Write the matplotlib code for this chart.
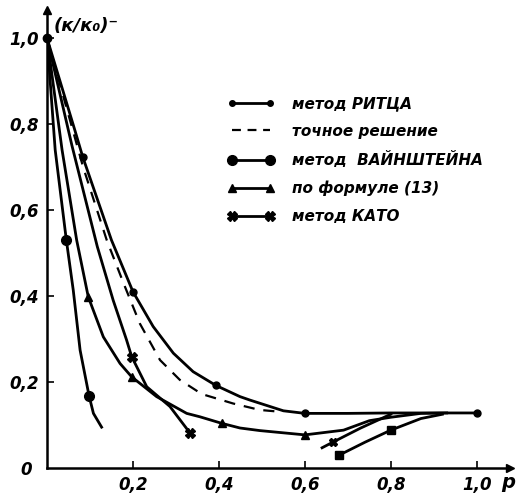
import numpy as np
import matplotlib.pyplot as plt

# метод Ритца
ritz_x = [0, 0.065, 0.083, 0.15, 0.2, 0.247, 0.294, 0.34, 0.393, 0.449, 0.472, 0.55, 0.6, 0.7, 0.8, 0.9, 1.0]
ritz_y = [1.0, 0.785, 0.724, 0.53, 0.41, 0.329, 0.267, 0.224, 0.192, 0.166, 0.158, 0.133, 0.127, 0.127, 0.128, 0.128, 0.128]
ritz_mx = [0, 0.083, 0.2, 0.393, 0.6, 1.0]
ritz_my = [1.0, 0.724, 0.41, 0.192, 0.127, 0.128]

# точное решение
exact_x = [0, 0.084, 0.139, 0.178, 0.216, 0.263, 0.309, 0.36, 0.433, 0.495, 0.54]
exact_y = [1.0, 0.70, 0.53, 0.43, 0.336, 0.251, 0.205, 0.172, 0.150, 0.135, 0.131]

# метод Вайнштейна
vain_x = [0, 0.019, 0.045, 0.061, 0.077, 0.098, 0.108, 0.127]
vain_y = [1.0, 0.74, 0.53, 0.414, 0.274, 0.167, 0.127, 0.095]
vain_mx = [0.045, 0.098]
vain_my = [0.53, 0.167]
vain2_x = [0.68, 0.74, 0.8, 0.87, 0.92]
vain2_y = [0.03, 0.06, 0.088, 0.115, 0.125]
vain2_mx = [0.68, 0.8]
vain2_my = [0.03, 0.088]

# по формуле (13)
f13_x = [0, 0.035, 0.069, 0.096, 0.131, 0.17, 0.197, 0.255, 0.325, 0.356, 0.406, 0.449, 0.495, 0.6,
         0.69, 0.75, 0.8, 0.87, 0.93]
f13_y = [1.0, 0.74, 0.53, 0.398, 0.305, 0.243, 0.212, 0.166, 0.127, 0.119, 0.104, 0.093, 0.087, 0.077,
         0.088, 0.11, 0.118, 0.127, 0.128]
f13_mx = [0.096, 0.197, 0.406, 0.6]
f13_my = [0.398, 0.212, 0.104, 0.077]

# метод Като
kato_x = [0, 0.058, 0.117, 0.154, 0.185, 0.197, 0.232, 0.286, 0.333]
kato_y = [1.0, 0.75, 0.515, 0.39, 0.298, 0.259, 0.189, 0.143, 0.081]
kato_mx = [0.197, 0.333]
kato_my = [0.259, 0.081]
kato2_x = [0.64, 0.665, 0.73, 0.8]
kato2_y = [0.047, 0.06, 0.093, 0.125]

yticks = [0.2, 0.4, 0.6, 0.8, 1.0]
ylabels = ['0,2', '0,4', '0,6', '0,8', '1,0']
xticks = [0.2, 0.4, 0.6, 0.8, 1.0]
xlabels = ['0,2', '0,4', '0,6', '0,8', '1,0']

fnt = dict(fontstyle='italic', fontweight='bold')

fig = plt.figure(figsize=(5.23, 4.96), dpi=100)
ax = fig.add_axes([0.0899, 0.0565, 0.885, 0.923])
lw = 2

ax.plot(ritz_x, ritz_y, 'k-', lw=lw)
ax.plot(ritz_mx, ritz_my, 'ko', ms=5)
ax.plot(exact_x, exact_y, 'k--', lw=1.6, dashes=(5, 4))
ax.plot(vain_x, vain_y, 'k-', lw=lw)
ax.plot(vain_mx, vain_my, 'ko', ms=7)
ax.plot(vain2_x, vain2_y, 'k-', lw=lw)
ax.plot(vain2_mx, vain2_my, 'ks', ms=6)
ax.plot(f13_x, f13_y, 'k-', lw=lw)
ax.plot(f13_mx, f13_my, 'k^', ms=6)
ax.plot(kato_x, kato_y, 'k-', lw=lw)
ax.plot(kato_mx, kato_my, 'kX', ms=7)
ax.plot(kato2_x, kato2_y, 'k-', lw=lw)
ax.plot(kato2_x[1], kato2_y[1], 'kX', ms=6)
ax.plot(0, 1.0, 'ko', ms=6, clip_on=False)

# legend
h1, = ax.plot([], [], 'k-', lw=lw, marker='o', ms=4)
h2, = ax.plot([], [], 'k--', lw=1.6, dashes=(4, 3))
h3, = ax.plot([], [], 'k-', lw=lw, marker='o', ms=7)
h4, = ax.plot([], [], 'k-', lw=lw, marker='^', ms=6)
h5, = ax.plot([], [], 'k-', lw=lw, marker='X', ms=7)
ax.legend([h1, h2, h3, h4, h5],
          ['метод РИТЦА', 'точное решение', 'метод  ВАЙНШТЕЙНА',
           'по формуле (13)', 'метод КАТО'],
          loc='upper left', bbox_to_anchor=(0.36, 0.842), frameon=False,
          numpoints=2, handlelength=3.1, labelspacing=0.82, handletextpad=1.1,
          prop=dict(style='italic', weight='bold', size=11))

ax.set_xlim(0, 1.077)
ax.set_ylim(0, 1.065)
for s in ['top', 'right']:
    ax.spines[s].set_visible(False)
ax.spines['left'].set_linewidth(1.8)
ax.spines['bottom'].set_linewidth(1.8)
ax.plot(1, 0, '>k', ms=6, transform=ax.transAxes, clip_on=False)
ax.plot(0, 1, '^k', ms=6, transform=ax.transAxes, clip_on=False)

ax.set_xticks(xticks)
ax.set_xticklabels(xlabels, **fnt, fontsize=12)
ax.set_yticks(yticks)
ax.set_yticklabels(ylabels, **fnt, fontsize=12)
ax.tick_params(direction='in', length=5, width=1.2, pad=6)

ax.text(-0.035, -0.005, '0', ha='right', va='center', **fnt, fontsize=12)
ax.text(1.072, -0.012, 'р', ha='center', va='top', **fnt, fontsize=14)
ax.text(0.015, 1.05, '(к/к₀)⁻', ha='left', va='top', **fnt, fontsize=13)

fig.savefig('out.png', dpi=100)
